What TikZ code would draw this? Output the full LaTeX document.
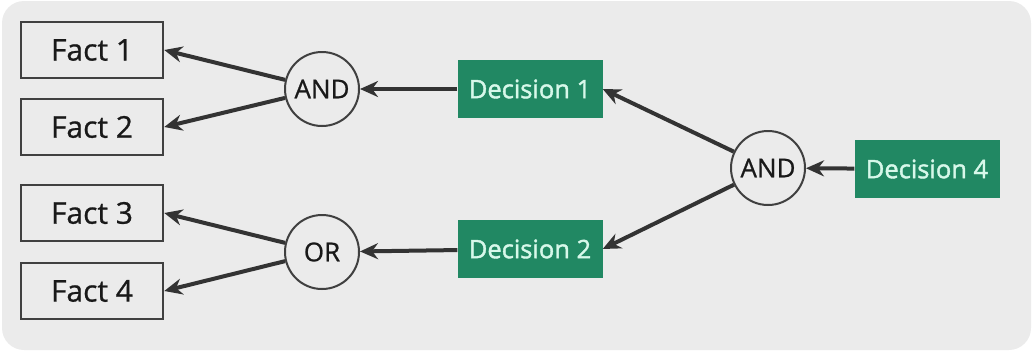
\documentclass[tikz,border=0pt]{standalone}
\usepackage{fontspec}
\setmainfont{Open Sans}
\newfontfamily\decfont[FakeBold=1.6]{Open Sans}
\newfontfamily\factfont[FakeBold=0.8]{Open Sans}
\usetikzlibrary{arrows.meta}
\definecolor{panel}{RGB}{235,235,235}
\definecolor{decgreen}{RGB}{33,136,99}
\definecolor{mint}{RGB}{215,248,234}
\begin{document}
\begin{tikzpicture}[x=1pt,y=-1pt,
	f/.append style={draw=black!75,line width=2.5pt,minimum width=142pt,minimum height=56pt,font=\factfont\fontsize{30}{36}\selectfont,text=black!90},
	d/.append style={fill=decgreen,minimum width=145pt,minimum height=58pt,font=\decfont\fontsize{25.5}{30}\selectfont,text=mint},
	g/.append style={draw=black!75,circle,line width=2pt,minimum size=74pt,inner sep=0pt,font=\factfont\fontsize{26}{30}\selectfont,text=black!90},
	a/.append style={->,>={Stealth[length=18pt,width=16pt]},line width=4pt,color=black!80}]
\useasboundingbox (0,0) rectangle (1033,351);
\fill[panel,rounded corners=22pt] (2,1) rectangle (1031,350);
\node[f] (f1) at (92,50) {Fact 1};
\node[f] (f2) at (92,127) {Fact 2};
\node[f] (f3) at (92,213) {Fact 3};
\node[f] (f4) at (92,291) {Fact 4};
\node[g] (and1) at (322,89) {AND};
\node[g] (or1) at (322,252) {OR};
\node[d] (d1) at (530,89) {Decision 1};
\node[d] (d2) at (530,249) {Decision 2};
\node[g] (and2) at (768,168) {AND};
\node[d] (d4) at (927,169) {Decision 4};
\draw[a] (and1) -- (f1.east);
\draw[a] (and1) -- (f2.east);
\draw[a] (or1) -- (f3.east);
\draw[a] (or1) -- (f4.east);
\draw[a] (d1) -- (and1);
\draw[a] (d2) -- (or1);
\draw[a] (and2) -- (d1.east);
\draw[a] (and2) -- (d2.east);
\draw[a] (d4) -- (and2);
\end{tikzpicture}
\end{document}
